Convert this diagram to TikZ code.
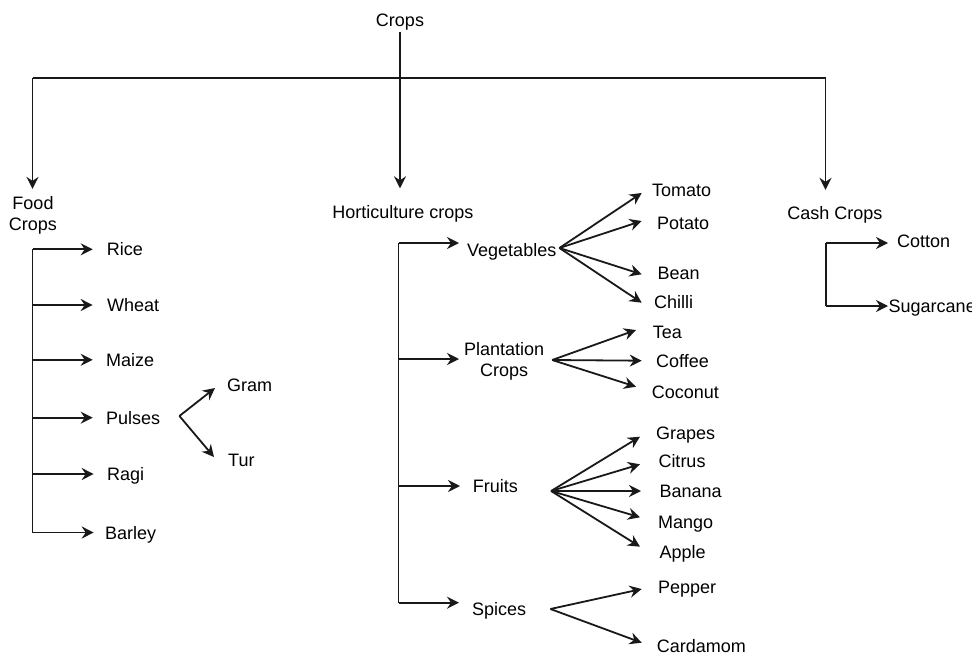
\documentclass[tikz,border=0pt]{standalone}
\usepackage{fontspec}
\setmainfont{Liberation Sans}
\usetikzlibrary{arrows.meta}
\begin{document}
\begin{tikzpicture}[x=1pt,y=-1pt,
  lbl/.style={inner sep=0pt, font=\fontsize{18}{21}\selectfont, text height=13pt, text depth=0pt},
  lw/.style={lbl, anchor=west},
  mlbl/.style={inner sep=0pt, font=\fontsize{18}{21}\selectfont, align=center},
  ln/.style={line width=1.8pt, black!90},
  arr/.style={ln, -{Stealth[length=12pt,width=12pt,inset=4pt]}},
]
\fill[white] (0,0) rectangle (972,653);
\useasboundingbox (0,0) rectangle (972,653);

% top level
\node[lbl] (crops) at (400,20) {Crops};
\node[mlbl] (food) at (33,215) {Food\\Crops};
\node[lbl] (hort) at (403,212) {Horticulture crops};
\node[lbl] (cash) at (835,213) {Cash Crops};

\coordinate (busL) at (32.5,77.7);
\coordinate (busR) at (825.5,77.7);

\draw[ln] (busL) -- (busR);
\draw[arr, shorten <=5pt, shorten >=17pt] (crops.south) -- (crops.south |- hort.north);
\draw[arr, shorten >=7pt] (busL) -- (busL |- food.north);
\draw[arr, shorten >=16.5pt] (busR) -- (busR |- cash.north);

% food crops
\node[lw] (rice)   at (106.7,249.3) {Rice};
\node[lw] (wheat)  at (107,305) {Wheat};
\node[lw] (maize)  at (106,359.8) {Maize};
\node[lw] (pulses) at (106,417.7) {Pulses};
\node[lw] (ragi)   at (107,474) {Ragi};
\node[lw] (barley) at (105,532.5) {Barley};
\node[lw] (gram)   at (227,385) {Gram};
\node[lw] (tur)    at (228,460) {Tur};

\draw[ln] (busL |- rice.west) -- (busL |- barley.west);
\draw[arr] (busL |- rice.west) -- ([xshift=-14pt]rice.west);
\draw[arr] (busL |- wheat.west) -- ([xshift=-14.3pt]wheat.west);
\draw[arr] (busL |- maize.west) -- ([xshift=-13.3pt]maize.west);
\draw[arr] (busL |- pulses.west) -- ([xshift=-13.3pt]pulses.west);
\draw[arr] (busL |- ragi.west) -- ([xshift=-13.3pt]ragi.west);
\draw[arr] (busL |- barley.west) -- ([xshift=-11.3pt]barley.west);

\coordinate (pulo) at ([xshift=19pt,yshift=1.7pt]pulses.east);
\draw[arr] (pulo) -- ([xshift=-12pt,yshift=-3pt]gram.west);
\draw[arr] (pulo) -- ([xshift=-14pt,yshift=3pt]tur.west);

% horticulture
\node[lw] (veg)    at (467,250) {Vegetables};
\node[mlbl, anchor=west] (plant) at (464,361.5) {Plantation\\Crops};
\node[lw] (fruits) at (472.7,486) {Fruits};
\node[lw] (spices) at (472,609) {Spices};

\coordinate (hsp) at (398.5,243);
\coordinate (vegtip) at ([xshift=-8pt,yshift=7pt]veg.west);
\coordinate (planttip) at ([xshift=-5pt,yshift=2.5pt]plant.west);
\coordinate (fruitstip) at ([xshift=-12.7pt]fruits.west);
\coordinate (spicestip) at ([xshift=-13pt,yshift=6.3pt]spices.west);

\draw[ln] (hsp |- vegtip) -- (hsp |- spicestip);
\draw[arr] (hsp |- vegtip) -- (vegtip);
\draw[arr] (hsp |- planttip) -- (planttip);
\draw[arr] (hsp |- fruitstip) -- (fruitstip);
\draw[arr] (hsp |- spicestip) -- (spicestip);

% vegetables
\node[lw] (tomato) at (652,190) {Tomato};
\node[lw] (potato) at (657,223) {Potato};
\node[lw] (bean)   at (657.3,273.3) {Bean};
\node[lw] (chilli) at (654,301.7) {Chilli};
\coordinate (vego) at ([xshift=3pt,yshift=2pt]veg.east);
\draw[arr] (vego) -- ([xshift=-10.3pt,yshift=-3pt]tomato.west);
\draw[arr] (vego) -- ([xshift=-15.3pt,yshift=2pt]potato.west);
\draw[arr] (vego) -- ([xshift=-15.6pt,yshift=-1pt]bean.west);
\draw[arr] (vego) -- ([xshift=-12.3pt,yshift=-1pt]chilli.west);

% plantation
\node[lw] (tea)     at (652.7,332.3) {Tea};
\node[lw] (coffee)  at (656,360.7) {Coffee};
\node[lw] (coconut) at (651.7,392.3) {Coconut};
\coordinate (planto) at ([xshift=7.7pt,yshift=1.5pt]plant.east);
\draw[arr] (planto) -- ([xshift=-16.7pt,yshift=2.3pt]tea.west);
\draw[arr] (planto) -- ([xshift=-14.3pt]coffee.west);
\draw[arr] (planto) -- ([xshift=-15.7pt,yshift=5.6pt]coconut.west);

% fruits
\node[lw] (grapes) at (656,432.7) {Grapes};
\node[lw] (citrus) at (658.3,460.7) {Citrus};
\node[lw] (banana) at (659.3,491) {Banana};
\node[lw] (mango)  at (658,522.3) {Mango};
\node[lw] (apple)  at (659.3,551.7) {Apple};
\coordinate (fruitso) at ([xshift=33pt,yshift=-5pt]fruits.east);
\draw[arr] (fruitso) -- ([xshift=-16pt,yshift=-4pt]grapes.west);
\draw[arr] (fruitso) -- ([xshift=-18.3pt,yshift=-3.6pt]citrus.west);
\draw[arr] (fruitso) -- ([xshift=-18.3pt]banana.west);
\draw[arr] (fruitso) -- ([xshift=-18pt,yshift=5pt]mango.west);
\draw[arr] (fruitso) -- ([xshift=-19.3pt,yshift=5pt]apple.west);

% spices
\node[lw] (pepper)   at (658,587) {Pepper};
\node[lw] (cardamom) at (656.7,645.5) {Cardamom};
\coordinate (spiceso) at ([xshift=24pt]spices.east);
\draw[arr] (spiceso) -- ([xshift=-16.3pt,yshift=-2pt]pepper.west);
\draw[arr] (spiceso) -- ([xshift=-15pt,yshift=2.8pt]cardamom.west);

% cash crops
\node[lw] (cotton)    at (897,241) {Cotton};
\node[lw] (sugarcane) at (888.5,306) {Sugarcane};
\coordinate (csp) at (826,243);
\coordinate (cottontip) at ([xshift=-9pt,yshift=-2pt]cotton.west);
\draw[ln] (csp |- cottontip) -- (csp |- sugarcane.west);
\draw[arr] (csp |- cottontip) -- (cottontip);
\draw[arr] (csp |- sugarcane.west) -- ([xshift=-0.5pt]sugarcane.west);
\end{tikzpicture}
\end{document}
